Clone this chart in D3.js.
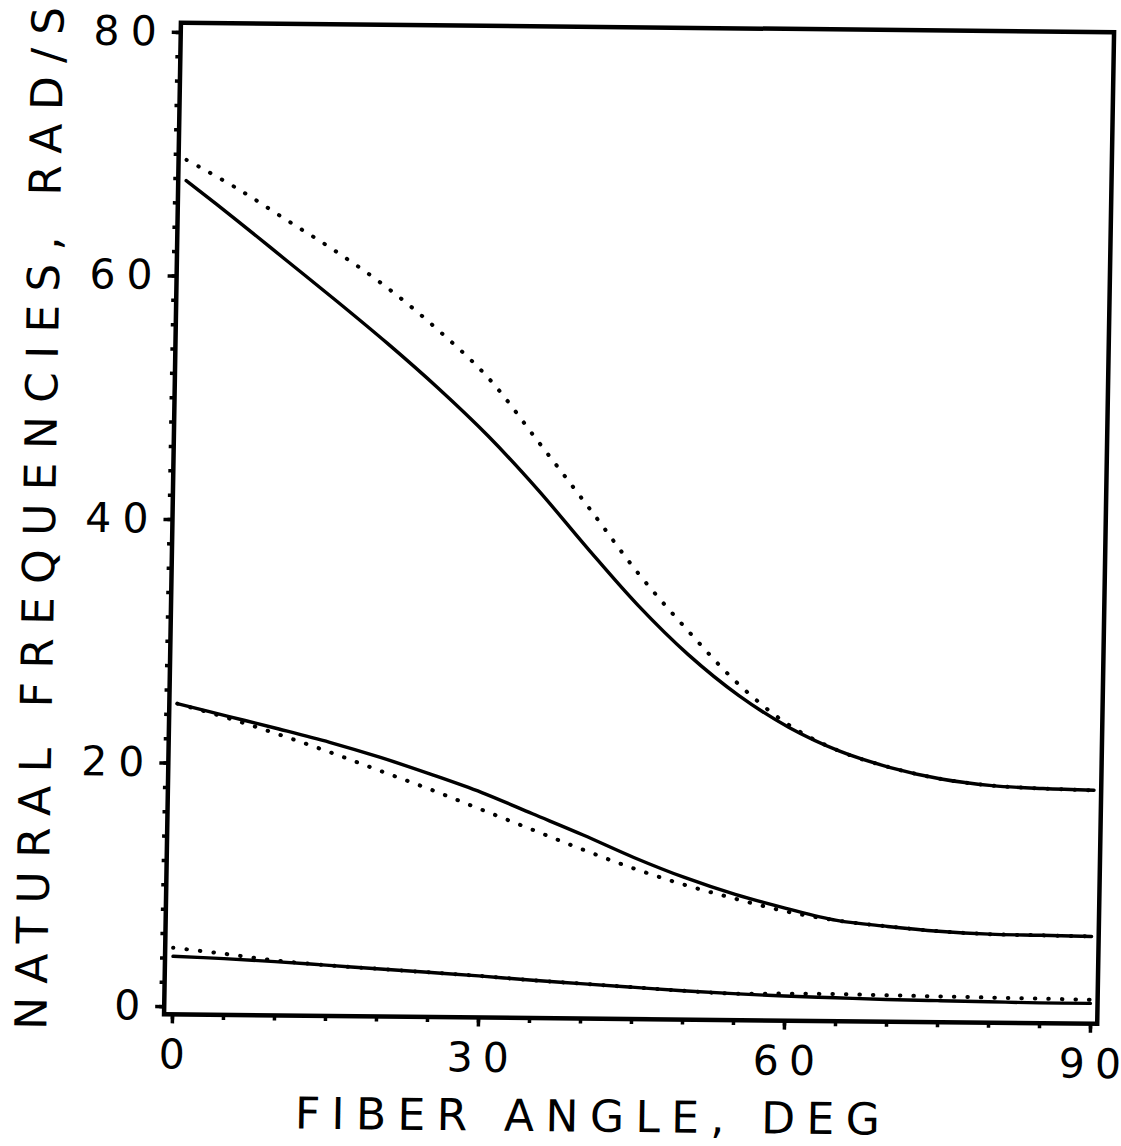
<!DOCTYPE html>
<html>
<head>
<meta charset="utf-8">
<script src="https://cdn.jsdelivr.net/npm/d3@7"></script>
<style>
  html, body { margin: 0; padding: 0; background: #fff; }
  svg { display: block; }
  text { font-family: "DejaVu Sans", sans-serif; fill: #000; }
</style>
</head>
<body>
<div id="chart"></div>
<script>
// fiber angle, deg (shared x for all curves)
var fiberAngle = [0, 5, 10, 15, 20, 25, 30, 35, 40, 45, 50, 55, 60, 65, 70, 75, 80, 85, 90];

// natural frequencies, rad/s -- solid and dotted curve for each mode
var mode3Solid  = [67.8, 64.6, 61.3, 58.0, 54.6, 51.0, 47.1, 42.7, 37.9, 33.3, 29.3, 26.0, 23.4, 21.5, 20.2, 19.3, 18.8, 18.6, 18.5];
var mode3Dotted = [69.5, 67.2, 64.6, 62.0, 59.1, 55.7, 51.8, 46.6, 41.3, 35.9, 31.2, 26.9, 23.6, 21.5, 20.2, 19.3, 18.8, 18.6, 18.5];
var mode2Solid  = [24.85, 23.85, 22.85, 21.8, 20.6, 19.25, 17.8, 16.1, 14.4, 12.6, 11.0, 9.65, 8.55, 7.6, 7.15, 6.8, 6.6, 6.55, 6.5];
var mode2Dotted = [24.85, 23.7, 22.4, 21.0, 19.5, 18.0, 16.4, 14.8, 13.2, 11.7, 10.4, 9.3, 8.3, 7.6, 7.15, 6.8, 6.6, 6.55, 6.5];
var mode1Solid  = [4.1, 3.95, 3.75, 3.5, 3.25, 3.0, 2.75, 2.45, 2.2, 1.95, 1.7, 1.5, 1.35, 1.25, 1.15, 1.1, 1.05, 1.0, 1.0];
var mode1Dotted = [4.8, 4.35, 3.85, 3.5, 3.25, 3.0, 2.75, 2.45, 2.2, 1.95, 1.7, 1.5, 1.55, 1.55, 1.5, 1.45, 1.4, 1.35, 1.3];

var xTicks = [0, 30, 60, 90];
var yTicks = [0, 20, 40, 60, 80];
var xLabel = "FIBER ANGLE, DEG";
var yLabel = "NATURAL FREQUENCIES, RAD/S";

var width = 1121, height = 1146;

var x = d3.scaleLinear().domain([0, 90]).range([180.45, 1098.5]);
var y = d3.scaleLinear().domain([0, 80]).range([1010.9, 36.7]);

// frame sits a little outside the data range
var frame = {
  left: x(-0.78), right: x(90.7),
  top: y(80.76), bottom: y(-0.67)
};

var svg = d3.select("#chart").append("svg")
    .attr("width", width)
    .attr("height", height);

svg.append("rect").attr("width", width).attr("height", height).attr("fill", "#fff");

// the scanned original is slightly skewed, so the whole plot is too
var g = svg.append("g")
    .attr("transform", "matrix(1,0.0102,-0.017,1,8.89,-6.52)");

// frame
g.append("rect")
    .attr("x", frame.left)
    .attr("y", frame.top)
    .attr("width", frame.right - frame.left)
    .attr("height", frame.bottom - frame.top)
    .attr("fill", "none")
    .attr("stroke", "#000")
    .attr("stroke-width", 4.5);

// minor ticks
g.append("g")
    .attr("transform", "translate(" + frame.left + ",0)")
    .call(d3.axisLeft(y).tickValues(d3.range(0, 81, 2)).tickSize(5).tickFormat(""))
    .call(function(a) { a.select(".domain").remove(); })
    .selectAll("line").attr("stroke-width", 3.5);

g.append("g")
    .attr("transform", "translate(0," + frame.bottom + ")")
    .call(d3.axisBottom(x).tickValues(d3.range(0, 91, 5)).tickSize(5).tickFormat(""))
    .call(function(a) { a.select(".domain").remove(); })
    .selectAll("line").attr("stroke-width", 3.5);

// spread digits apart like the plotter lettering (per-glyph dx, no trailing gap)
function spread(gap) {
  return function(d) {
    var s = String(d);
    return s.split("").map(function(c, i) { return i ? gap : 0; }).join(" ");
  };
}

// major ticks + labels
var yAxis = g.append("g")
    .attr("transform", "translate(" + frame.left + ",0)")
    .call(d3.axisLeft(y).tickValues(yTicks).tickSize(9).tickPadding(15));
yAxis.select(".domain").remove();
yAxis.selectAll("line").attr("stroke-width", 3.5);
yAxis.selectAll("text")
    .attr("font-family", "DejaVu Sans")
    .attr("font-size", 41)
    .attr("dx", spread(11))
    .attr("fill", "#000");

var xAxis = g.append("g")
    .attr("transform", "translate(0," + frame.bottom + ")")
    .call(d3.axisBottom(x).tickValues(xTicks).tickSize(9).tickPadding(16));
xAxis.select(".domain").remove();
xAxis.selectAll("line").attr("stroke-width", 3.5);
xAxis.selectAll("text")
    .attr("font-family", "DejaVu Sans")
    .attr("font-size", 41)
    .attr("dx", spread(10))
    .attr("fill", "#000");

// axis titles
g.append("text")
    .attr("x", 597.5)
    .attr("y", 1132)
    .attr("text-anchor", "middle")
    .attr("font-size", 44)
    .attr("textLength", 585)
    .attr("lengthAdjust", "spacing")
    .text(xLabel);

g.append("text")
    .attr("transform", "translate(55,524.5) rotate(-90)")
    .attr("text-anchor", "middle")
    .attr("font-size", 44)
    .attr("textLength", 1023)
    .attr("lengthAdjust", "spacing")
    .text(yLabel);

// curves
var line = d3.line()
    .x(function(d) { return x(d[0]); })
    .y(function(d) { return y(d[1]); })
    .curve(d3.curveCatmullRom.alpha(0.5));

function pairs(vals) {
  return fiberAngle.map(function(a, i) { return [a, vals[i]]; });
}

var series = [
  {vals: mode1Solid, dotted: false},
  {vals: mode2Solid, dotted: false},
  {vals: mode3Solid, dotted: false},
  {vals: mode1Dotted, dotted: true},
  {vals: mode2Dotted, dotted: true},
  {vals: mode3Dotted, dotted: true}
];

g.selectAll(".curve")
    .data(series)
  .enter().append("path")
    .attr("class", "curve")
    .attr("d", function(d) { return line(pairs(d.vals)); })
    .attr("fill", "none")
    .attr("stroke", "#000")
    .attr("stroke-width", function(d) { return d.dotted ? 4 : 3.4; })
    .attr("stroke-linecap", "round")
    .attr("stroke-dasharray", function(d) { return d.dotted ? "0.5 13" : null; });
</script>
</body>
</html>
